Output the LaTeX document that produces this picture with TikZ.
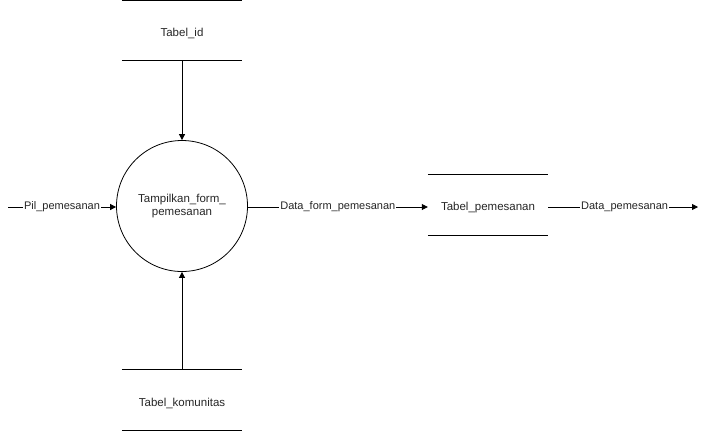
\documentclass[tikz,border=0pt]{standalone}
\usepackage{fontspec}
\setmainfont{Liberation Sans}
\usetikzlibrary{arrows.meta}
\begin{document}
\begin{tikzpicture}[x=1pt,y=-1pt,
  every node/.style={font=\fontsize{11.5}{13.5}\selectfont, text=black!85},
  proc/.style={draw, circle, minimum size=131pt, inner sep=0pt, align=center, line width=0.8pt},
  store/.style={minimum width=120pt, minimum height=60pt, inner sep=0pt},
  sline/.style={line width=0.8pt},
  flow/.style={line width=0.8pt, -{Triangle[length=6pt,width=6pt]}},
  lbl/.style={fill=white, inner sep=1pt, font=\fontsize{11}{13}\selectfont}]
\useasboundingbox (0,0) rectangle (712,437);
\node[proc] (p) at (182,206) {Tampilkan\_form\_\\pemesanan};
\node[store] (sid) at (182,33) {Tabel\_id};
\draw[sline] (sid.north west) ++(0,-2.5) -- ++(120,0);
\draw[sline] (sid.south west) ++(0,-2.5) coordinate (sidb) -- ++(120,0);
\node[store] (skom) at (182,403) {Tabel\_komunitas};
\draw[sline] (skom.north west) ++(0,-3) coordinate (skomt) -- ++(120,0);
\draw[sline] (skom.south west) ++(0,-3) -- ++(120,0);
\node[store] (spem) at (488,208) {Tabel\_pemesanan};
\draw[sline] (spem.north west) ++(0,-3) -- ++(120,0);
\draw[sline] (spem.south west) ++(0,-3) -- ++(120,0);
\coordinate (in) at (8,207);
\coordinate (out) at (698,207);
\draw[flow] (sidb -| sid.center) -- (p.north);
\draw[flow] (skomt -| skom.center) -- (p.south);
\draw[flow] (in) -- node[lbl, pos=0.5] {Pil\_pemesanan} (p.west |- in);
\draw[flow] (p.east |- in) -- node[lbl, pos=0.5] {Data\_form\_pemesanan} (spem.west |- in);
\draw[flow] (spem.east |- in) -- node[lbl, pos=0.51] {Data\_pemesanan} (out);
\end{tikzpicture}
\end{document}
